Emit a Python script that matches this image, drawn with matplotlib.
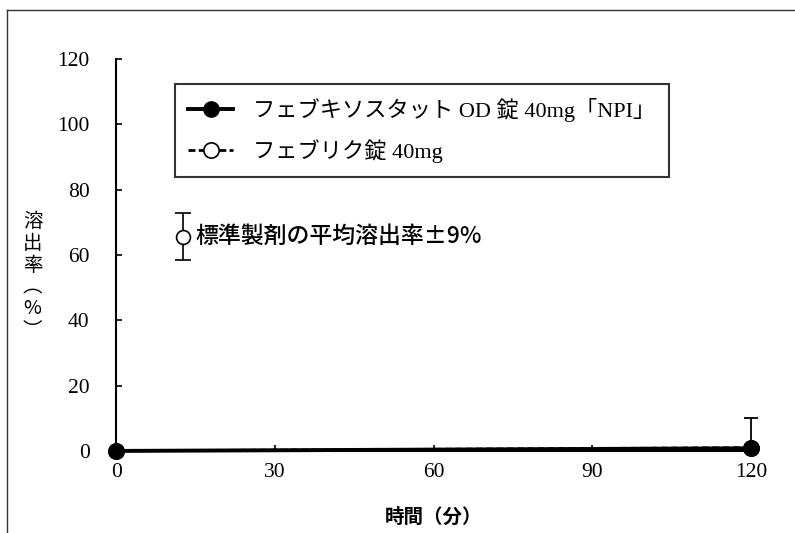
import numpy as np
import matplotlib.pyplot as plt
from matplotlib.lines import Line2D

# data
times = [0, 120]
test_vals = [0.0, 0.8]       # フェブキソスタットOD錠40mg「NPI」
ref_vals = [0.0, 1.0]        # フェブリク錠40mg
ref_err = [0.0, 9.0]

x_ticks = [0, 30, 60, 90, 120]
y_ticks = [0, 20, 40, 60, 80, 100, 120]

test_label = "フェブキソスタット OD 錠 40mg「NPI」"
ref_label = "フェブリク錠 40mg"
note_label = "標準製剤の平均溶出率±9%"

serif = ['Liberation Serif', 'Noto Sans CJK JP']
gothic = ['Noto Sans CJK JP', 'DejaVu Sans']

fig = plt.figure(figsize=(7.95, 5.33), dpi=100)
ax = fig.add_axes([0.146, 0.154, 0.799, 0.735])

# outer frame (top and left edges only)
fig.add_artist(Line2D([0.009, 1.0], [0.981, 0.981], transform=fig.transFigure,
                      color='#333333', lw=1.0))
fig.add_artist(Line2D([0.009, 0.009], [0.0, 0.981], transform=fig.transFigure,
                      color='#333333', lw=1.0))

ax.plot(times, ref_vals, color='black', lw=2.0, ls=(0, (2.5, 1.2)), marker='o',
        ms=11, mfc='white', mec='black', mew=1.2, clip_on=False, zorder=3,
        label=ref_label)
# the part below 0 is not shown
lower = np.minimum(ref_err, ref_vals)
ax.errorbar(times, ref_vals, yerr=[lower, ref_err], fmt='none', ecolor='black',
            elinewidth=1.3, capsize=5, capthick=1.3, clip_on=False, zorder=2)
ax.plot(times, test_vals, color='black', lw=2.8, marker='o', ms=11,
        mfc='black', mec='black', clip_on=False, zorder=4, label=test_label)

# symbol for the reference tolerance
ax.errorbar([12.7], [65.6], yerr=[7.2], fmt='o', ms=10, mfc='white', mec='black',
            mew=1.2, ecolor='black', elinewidth=1.2, capsize=6, capthick=1.2)
ax.text(15.0, 65.6, note_label, fontsize=16.5, family=gothic, va='center',
        ha='left', fontweight='medium')

ax.set_xlim(0, 120)
ax.set_ylim(0, 120)
ax.set_xticks(x_ticks)
ax.set_yticks(y_ticks)
ax.tick_params(direction='in', length=4, width=1.2, pad=9, labelsize=15.5)
for lab in ax.get_xticklabels() + ax.get_yticklabels():
    lab.set_family(serif)
ax.tick_params(axis='y', pad=19)
for s in ['top', 'right']:
    ax.spines[s].set_visible(False)
for s in ['left', 'bottom']:
    ax.spines[s].set_linewidth(1.5)

ax.set_xlabel("時間（分）", fontsize=14, family=gothic, fontweight='bold', labelpad=18)
fig.text(0.041, 0.482, "溶\n出\n率\n︵\n%\n︶", fontsize=14, family=gothic,
         ha='center', va='center', linespacing=1.05)

handles, labels = ax.get_legend_handles_labels()
order = [1, 0]
leg = ax.legend([handles[i] for i in order], [labels[i] for i in order],
                loc='upper left', bbox_to_anchor=(0.093, 0.936),
                prop={'family': serif, 'size': 16}, frameon=True, fancybox=False,
                edgecolor='black', handlelength=2.0, labelspacing=0.8,
                borderpad=0.6, handletextpad=0.9, borderaxespad=0)
leg.get_frame().set_linewidth(1.5)

plt.savefig("out.png", dpi=100)
